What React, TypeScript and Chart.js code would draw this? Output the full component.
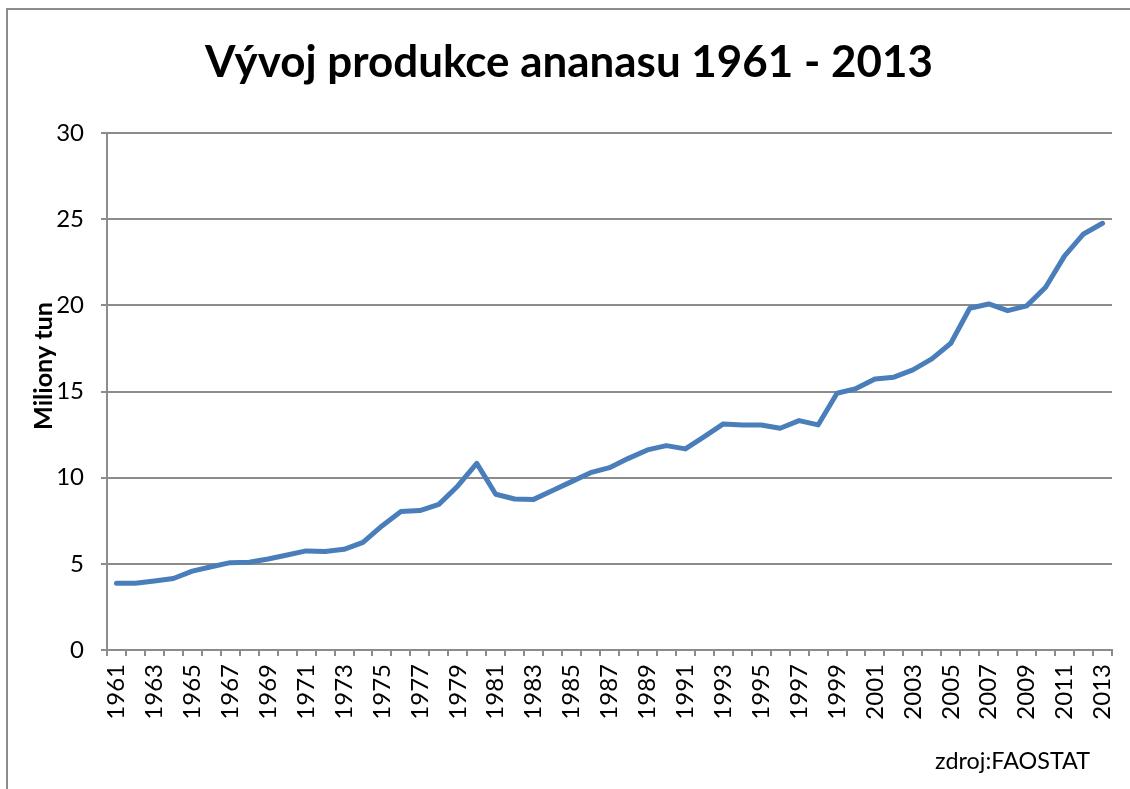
import { useEffect, useRef } from "react";
import { Chart, registerables } from "chart.js";

Chart.register(...registerables);

const TITLE = "Vývoj produkce ananasu 1961 - 2013";
const Y_TITLE = "Miliony tun";
const SOURCE = "zdroj:FAOSTAT";

const years: string[] = Array.from({ length: 53 }, (_, i) => String(1961 + i));

const production: number[] = [
  3.87, 3.87, 4.0, 4.15, 4.58, 4.83, 5.07, 5.09, 5.28, 5.51,
  5.75, 5.71, 5.84, 6.25, 7.2, 8.03, 8.09, 8.45, 9.52, 10.83,
  9.04, 8.76, 8.74, 9.25, 9.77, 10.29, 10.58, 11.12, 11.61, 11.86,
  11.67, 12.38, 13.12, 13.06, 13.06, 12.87, 13.31, 13.06, 14.9, 15.17,
  15.73, 15.83, 16.25, 16.89, 17.8, 19.83, 20.08, 19.69, 19.97, 21.05,
  22.87, 24.14, 24.76,
];

const FONT = "Lato, 'Open Sans', sans-serif";
const GRID = "#8c8c8c";

function fitFont(ctx: CanvasRenderingContext2D, text: string, weight: string, target: number) {
  let size = 40;
  ctx.font = `${weight} ${size}px ${FONT}`;
  const w = ctx.measureText(text).width;
  size = (size * target) / w;
  ctx.font = `${weight} ${size}px ${FONT}`;
}

const textPlugin = {
  id: "texts",
  afterDraw(chart: any) {
    const ctx = chart.ctx as CanvasRenderingContext2D;
    ctx.save();
    ctx.fillStyle = "#000";
    fitFont(ctx, TITLE, "bold", 728);
    ctx.textAlign = "center";
    ctx.textBaseline = "middle";
    ctx.fillText(TITLE, 569, 63);
    ctx.save();
    ctx.translate(44, 366);
    ctx.rotate(-Math.PI / 2);
    fitFont(ctx, Y_TITLE, "bold", 128);
    ctx.fillText(Y_TITLE, 0, 0);
    ctx.restore();
    fitFont(ctx, SOURCE, "normal", 155);
    ctx.textAlign = "right";
    ctx.textBaseline = "alphabetic";
    ctx.fillText(SOURCE, 1090, 769);
    ctx.restore();
  },
};

export default function App() {
  const ref = useRef<HTMLCanvasElement | null>(null);

  useEffect(() => {
    if (!ref.current) return;
    const chart = new Chart(ref.current, {
      type: "line",
      data: {
        labels: years,
        datasets: [
          {
            data: production,
            borderColor: "#4a7ebb",
            backgroundColor: "#4a7ebb",
            borderWidth: 5,
            pointRadius: 0,
            tension: 0,
            borderCapStyle: "round",
            borderJoinStyle: "round",
          },
        ],
      },
      options: {
        animation: false,
        responsive: false,
        maintainAspectRatio: false,
        layout: { padding: { top: 133, right: 18, left: 0, bottom: 0 } },
        plugins: {
          legend: { display: false },
          tooltip: { enabled: false },
          title: { display: false },
        },
        scales: {
          x: {
            type: "category",
            offset: true,
            afterFit(scale: any) {
              scale.height = 139;
              scale.paddingLeft = 0;
              scale.paddingRight = 0;
            },
            grid: {
              offset: true,
              drawOnChartArea: false,
              drawTicks: true,
              tickLength: 6,
              color: GRID,
              lineWidth: 2,
            },
            border: { display: true, color: GRID, width: 2 },
            ticks: {
              autoSkip: false,
              maxRotation: 90,
              minRotation: 90,
              padding: 8,
              color: "#000",
              font: { family: FONT, size: 24 },
              callback: (_v: any, i: number) => (i % 2 === 0 ? years[i] : ""),
            },
          },
          y: {
            min: 0,
            max: 30,
            afterFit(scale: any) {
              scale.width = 107;
              scale.paddingTop = 0;
              scale.paddingBottom = 0;
            },
            grid: {
              color: GRID,
              lineWidth: 2,
              drawTicks: true,
              tickLength: 6,
            },
            border: { display: true, color: GRID, width: 2 },
            ticks: {
              stepSize: 5,
              padding: 17,
              color: "#000",
              font: { family: FONT, size: 24 },
            },
          },
        },
      },
      plugins: [textPlugin],
    });
    return () => chart.destroy();
  }, []);

  return (
    <div style={{ position: "absolute", left: 0, top: 0, width: 1130, height: 789, overflow: "hidden", background: "#fff" }}>
      <div
        style={{
          position: "absolute",
          left: 6,
          top: 8,
          width: 1124,
          height: 781,
          borderLeft: `2px solid ${GRID}`,
          borderTop: `2px solid ${GRID}`,
          boxSizing: "border-box",
        }}
      />
      <canvas ref={ref} width={1130} height={789} style={{ position: "absolute", left: 0, top: 0, display: "block" }} />
    </div>
  );
}
